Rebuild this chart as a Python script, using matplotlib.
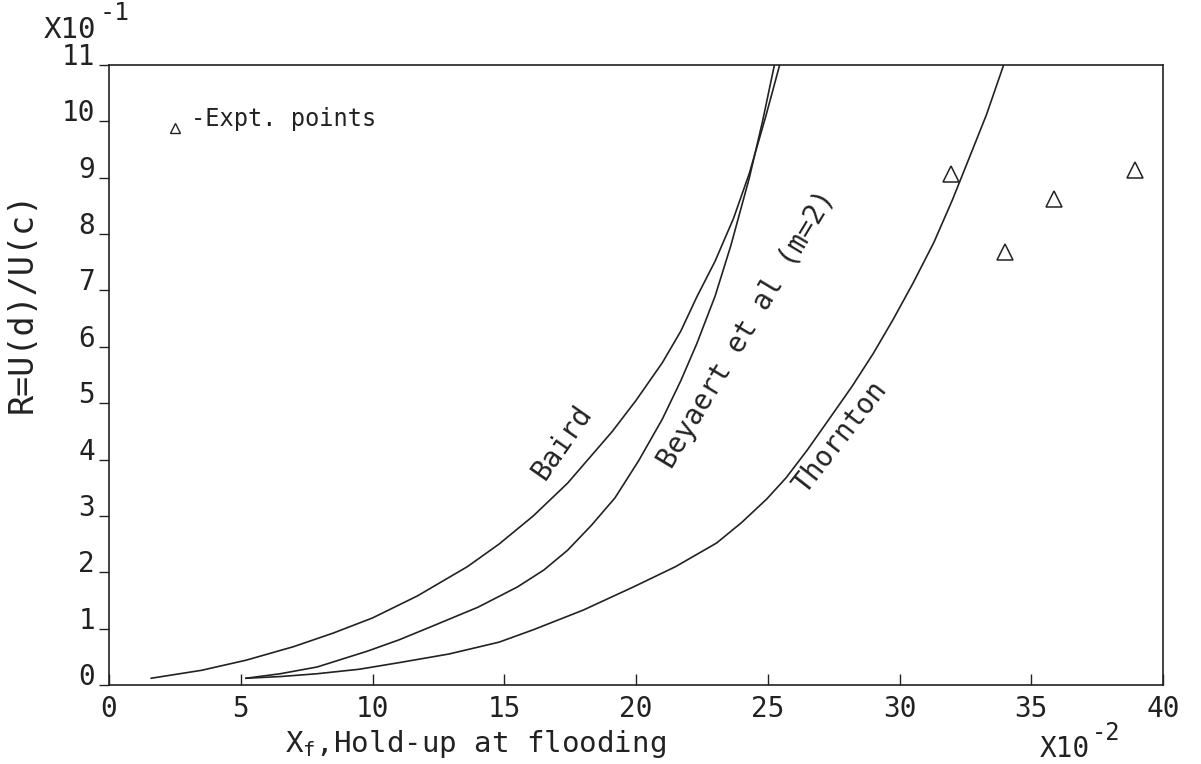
import matplotlib
matplotlib.use("Agg")
import matplotlib.pyplot as plt

# Data ------------------------------------------------------------
# x in units of 1e-2 (hold-up at flooding), y in units of 1e-1 (R)
baird_x = [1.6, 3.5, 5.2, 7.0, 8.5, 10.0, 11.7, 13.6, 14.8, 16.1, 17.4, 19.1,
           20.0, 21.0, 21.7, 22.3, 23.0, 23.7, 24.3, 24.9, 25.45]
baird_y = [0.12, 0.26, 0.44, 0.68, 0.92, 1.19, 1.58, 2.1, 2.5, 3.0, 3.58, 4.5,
           5.05, 5.72, 6.28, 6.88, 7.52, 8.28, 9.08, 10.05, 11.0]

beyaert_x = [5.2, 6.5, 7.9, 9.8, 11.0, 12.3, 14.0, 15.5, 16.5, 17.4, 18.3, 19.2,
             20.1, 21.0, 21.7, 22.3, 23.0, 23.6, 24.3, 24.8, 25.25]
beyaert_y = [0.12, 0.2, 0.32, 0.6, 0.8, 1.05, 1.38, 1.74, 2.04, 2.39, 2.83, 3.32,
             3.98, 4.72, 5.4, 6.05, 6.9, 7.8, 9.0, 10.0, 11.0]

thornton_x = [5.2, 6.5, 7.9, 9.5, 11.05, 12.9, 14.8, 16.1, 18.0, 19.9, 21.5, 23.06,
              24.0, 24.96, 25.7, 26.5, 27.3, 28.2, 29.0, 29.75, 30.5, 31.3, 32.0,
              32.6, 33.3, 33.95]
thornton_y = [0.12, 0.15, 0.2, 0.28, 0.4, 0.55, 0.76, 0.98, 1.33, 1.74, 2.1, 2.52,
              2.88, 3.3, 3.68, 4.17, 4.7, 5.3, 5.88, 6.48, 7.12, 7.85, 8.6,
              9.3, 10.12, 11.0]

expt_x = [31.95, 34.0, 35.86, 38.94]
expt_y = [9.06, 7.68, 8.62, 9.13]

x_ticks = [0, 5, 10, 15, 20, 25, 30, 35, 40]
y_ticks = list(range(0, 12))

# Plot -------------------------------------------------------------
plt.rcParams['font.family'] = ['DejaVu Sans Mono', 'DejaVu Sans']
plt.rcParams['mathtext.default'] = 'regular'
ink = '#222222'

fig = plt.figure(figsize=(12.01, 7.64), dpi=100)
ax = fig.add_axes([0.0908, 0.1034, 0.8776, 0.8115])

ax.plot(baird_x, baird_y, color=ink, lw=1.2)
ax.plot(beyaert_x, beyaert_y, color=ink, lw=1.2)
ax.plot(thornton_x, thornton_y, color=ink, lw=1.2)
ax.plot(expt_x, expt_y, linestyle='none', marker='^', markersize=11,
        markerfacecolor='none', markeredgecolor=ink, markeredgewidth=1.1)

ax.set_xlim(0, 40)
ax.set_ylim(0, 11)
ax.set_xticks(x_ticks)
ax.set_yticks(y_ticks)
ax.set_xticklabels([str(v) for v in x_ticks], fontsize=20, color=ink)
ax.set_yticklabels([str(v) for v in y_ticks], fontsize=20, color=ink)
ax.tick_params(axis='x', direction='in', length=8, width=1, pad=7, colors=ink)
ax.tick_params(axis='y', direction='out', length=7, width=1, pad=3, colors=ink)
for lab in ax.get_yticklabels():
    lab.set_verticalalignment('baseline')
for sp in ax.spines.values():
    sp.set_color(ink)
    sp.set_linewidth(1.2)

# curve labels
ax.text(17.2, 4.31, 'Baird', rotation=55, fontsize=20, color=ink,
        ha='center', va='center', rotation_mode='anchor')
ax.text(24.2, 6.31, 'Beyaert et al (m=2)', rotation=59, fontsize=20, color=ink,
        ha='center', va='center', rotation_mode='anchor')
ax.text(27.74, 4.40, 'Thornton', rotation=52, fontsize=20, color=ink,
        ha='center', va='center', rotation_mode='anchor')

# legend note
ax.plot([2.5], [9.88], linestyle='none', marker='^', markersize=7,
        markerfacecolor='none', markeredgecolor=ink, markeredgewidth=1.0)
ax.text(3.1, 10.05, '-Expt. points', fontsize=17, color=ink, ha='left', va='center')

# axis labels and multipliers
fig.text(475 / 1201, 1 - 752 / 764, 'X$_f$,Hold-up at flooding', fontsize=21,
         color=ink, ha='center', va='baseline')
fig.text(22 / 1201, 1 - 302 / 764, 'R=U(d)/U(c)', fontsize=24, color=ink,
         rotation=90, ha='center', va='center')
fig.text(44 / 1201, 1 - 38 / 764, 'X10', fontsize=21, color=ink,
         ha='left', va='baseline')
fig.text(100 / 1201, 1 - 20 / 764, '-1', fontsize=18, color=ink,
         ha='left', va='baseline')
fig.text(1040 / 1201, 1 - 757 / 764, 'X10', fontsize=20, color=ink,
         ha='left', va='baseline')
fig.text(1092 / 1201, 1 - 740 / 764, '-2', fontsize=17, color=ink,
         ha='left', va='baseline')

fig.savefig('out.png', dpi=100)
